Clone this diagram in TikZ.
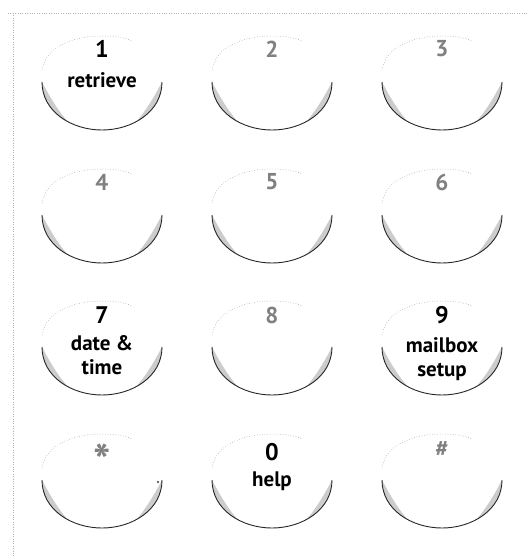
\documentclass[tikz,border=0pt]{standalone}
\usepackage{fontspec}
\setmainfont{PT Sans}
\begin{document}
\begin{tikzpicture}[x=1pt,y=-1pt,
  keyrim/.style={line width=0.9pt, black!85},
  keyshade/.style={fill=black!20, draw=none},
  keytop/.style={black!40, line width=0.5pt, dash pattern=on 0.6pt off 2pt},
  activenum/.style={font=\bfseries\fontsize{24}{26}\selectfont, text=black},
  idlenum/.style={font=\bfseries\fontsize{23}{26}\selectfont, text=black!50},
  keylabel/.style={font=\bfseries\fontsize{21}{24}\selectfont, text=black, align=center, inner sep=0pt},
  frameline/.style={black!30, line width=0.6pt, dash pattern=on 0.8pt off 1.6pt}
]
\useasboundingbox (0,0) rectangle (527,556);
\draw[frameline] (8,13) -- (527,13);
\draw[frameline] (13,13) -- (13,556);

\newcommand{\keyshape}[2]{%
  % #1 = centre x, #2 = bottom y
  \fill[keyshade] (#1-60,#2-48) .. controls (#1-60,#2-30) and (#1-49.2,#2-16.3) .. (#1-34.1,#2-8.3)
     .. controls (#1-43,#2-18) and (#1-51,#2-31) .. (#1-60,#2-48) -- cycle;
  \fill[keyshade] (#1+60,#2-48) .. controls (#1+60,#2-30) and (#1+49.2,#2-16.3) .. (#1+34.1,#2-8.3)
     .. controls (#1+43,#2-18) and (#1+51,#2-31) .. (#1+60,#2-48) -- cycle;
  \draw[keyrim] (#1-60,#2-48) .. controls (#1-60,#2-18) and (#1-30,#2) .. (#1,#2)
     .. controls (#1+30,#2) and (#1+60,#2-18) .. (#1+60,#2-48);
  \draw[keytop] (#1-60,#2-60) .. controls (#1-56,#2-84) and (#1-28,#2-94) .. (#1,#2-94)
     .. controls (#1+14,#2-94) and (#1+24,#2-92) .. (#1+30,#2-89);
}

% row 1
\keyshape{102}{130}\keyshape{272}{130}\keyshape{442}{130}
\node[activenum] (n1) at (102,49) {1};
\node[keylabel] (l1) at (102,80) {retrieve};
\node[idlenum] (n2) at (272,49) {2};
\node[idlenum] (n3) at (442,49) {3};

% row 2
\keyshape{102}{263}\keyshape{272}{263}\keyshape{442}{263}
\node[idlenum] (n4) at (102,182) {4};
\node[idlenum] (n5) at (272,182) {5};
\node[idlenum] (n6) at (442,182) {6};

% row 3
\keyshape{102}{395}\keyshape{272}{395}\keyshape{442}{395}
\node[activenum] (n7) at (102,315) {7};
\node[keylabel] (l7) at (102,355) {date \&\\time};
\node[idlenum] (n8) at (272,315) {8};
\node[activenum] (n9) at (442,315) {9};
\node[keylabel] (l9) at (442,359) {mailbox\\setup};

% row 4
\keyshape{102}{528}\keyshape{272}{528}\keyshape{442}{528}
\node[idlenum, font=\bfseries\fontsize{46}{46}\selectfont] (nstar) at (102,461) {*};
\node[activenum] (n0) at (272,452) {0};
\node[keylabel] (l0) at (272,481) {help};
\node[idlenum] (nhash) at (442,449) {\#};
\fill[black!80] (158,482) circle (1.1pt);
\end{tikzpicture}
\end{document}
